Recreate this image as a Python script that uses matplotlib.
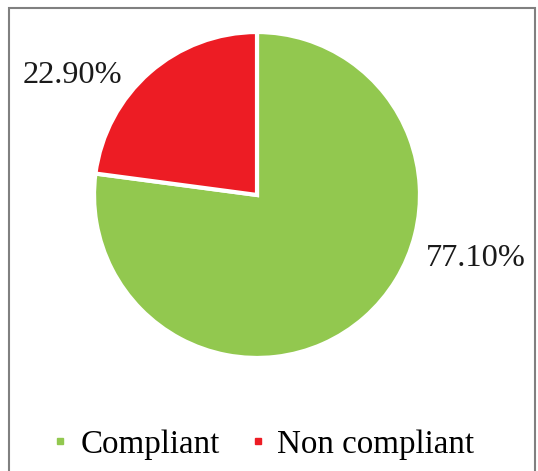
import matplotlib
matplotlib.use("Agg")
import matplotlib.pyplot as plt
from matplotlib.patches import Rectangle
from matplotlib.lines import Line2D

categories = ["Compliant", "Non compliant"]
values = [77.10, 22.90]
labels = ["77.10%", "22.90%"]
colors = ["#92C84F", "#ED1C24"]

plt.rcParams['font.family'] = ['Liberation Serif', 'DejaVu Serif']

fig = plt.figure(figsize=(5.38, 4.71), dpi=100)
fig.patch.set_facecolor("white")
fig.patches.append(Rectangle((9/538, -0.01), (535-9)/538, 1 - 8/471 + 0.01,
                             transform=fig.transFigure, fill=False,
                             edgecolor="#808080", linewidth=1.5))

ax = fig.add_axes([0.1747, 0.240, 0.606, 0.692])
ax.pie(values, colors=colors, startangle=90, counterclock=False,
       wedgeprops=dict(edgecolor="white", linewidth=3))
ax.set_aspect("equal")
ax.set_xlim(-1, 1)
ax.set_ylim(-1, 1)

label_pos = [(1.344, -0.387), (-1.132, 0.736)]
for lab, (x, y) in zip(labels, label_pos):
    ax.text(x, y, lab, ha="center", va="center", fontsize=23.3, color="#1a1a1a")

handles = [Line2D([0], [0], marker="s", linestyle="none", markersize=5,
                  markerfacecolor=c, markeredgecolor=c) for c in colors]
fig.legend(handles, categories, loc="center", bbox_to_anchor=(0.491, 0.0565),
           ncol=2, frameon=False, fontsize=23.8, handletextpad=0.4,
           columnspacing=0.95, handlelength=0.4, borderpad=0, borderaxespad=0)

fig.savefig("out.png", dpi=100, facecolor="white")
